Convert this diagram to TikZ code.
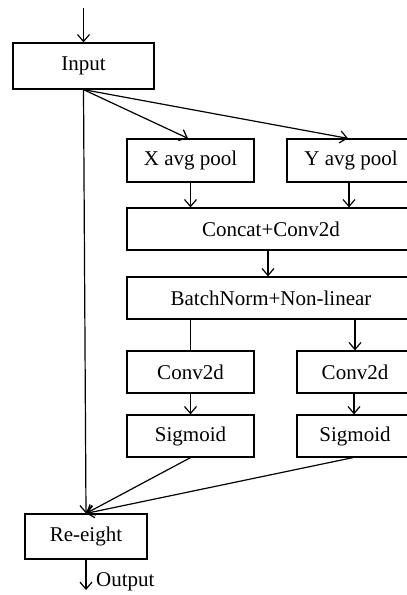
\documentclass[tikz,border=0pt]{standalone}
\usepackage{fontspec}
\setmainfont{Liberation Serif}
\usetikzlibrary{arrows.meta}
\begin{document}
\begin{tikzpicture}[x=1pt,y=-1pt,
  box/.style={draw,line width=1.2pt,inner sep=0pt,font=\fontsize{21}{25}\selectfont},
  conn/.style={line width=1.2pt},
  arr/.style={conn,-{Straight Barb[length=7pt,width=12pt,line width=1.2pt]}}]
\useasboundingbox (0,0) rectangle (407,595);
\clip (0,0) rectangle (407,595);
\node[box,minimum width=141pt,minimum height=46pt] (input) at (83.5,66) {Input};
\node[box,minimum width=127pt,minimum height=43pt] (xpool) at (190.5,160.5) {X avg pool};
\node[box,minimum width=128pt,minimum height=43pt] (ypool) at (351,160.5) {Y avg pool};
\node[box,minimum width=288pt,minimum height=42pt] (concat) at (271,229) {Concat+Conv2d};
\node[box,minimum width=288pt,minimum height=42pt] (bn) at (271,298) {BatchNorm+Non-linear};
\node[box,minimum width=127pt,minimum height=42pt] (convl) at (190.5,372) {Conv2d};
\node[box,minimum width=116pt,minimum height=42pt] (convr) at (355,372) {Conv2d};
\node[box,minimum width=127pt,minimum height=42pt] (sigl) at (190.5,436) {Sigmoid};
\node[box,minimum width=116pt,minimum height=42pt] (sigr) at (355,436) {Sigmoid};
\node[box,minimum width=122pt,minimum height=45pt] (rew) at (86,536.5) {Re-eight};
\coordinate (top) at (83.5,8);
\coordinate (outend) at (86,590);
\node[anchor=west,inner sep=0pt,font=\fontsize{21}{25}\selectfont] (outlbl) at (96,582) {Output};
% connectors
\draw[arr] (top) -- (input.north);
\draw[arr] (input.south) -- (xpool.north -| 188,0);
\draw[arr] (input.south) -- (ypool.north -| 348,0);
\draw[arr] (input.south) -- (rew.north);
\draw[arr] (xpool.south) -- (xpool.south |- concat.north);
\draw[arr] (ypool.south -| 349,0) -- (concat.north -| 349,0);
\draw[arr] (concat.south -| 268,0) -- (bn.north -| 268,0);
\draw[conn] (bn.south -| convl.north) -- (convl.north);
\draw[arr] (bn.south -| 355,0) -- (convr.north);
\draw[arr] (convl.south) -- (sigl.north);
\draw[arr] (convr.south -| 354,0) -- (sigr.north -| 354,0);
\draw[arr] (sigl.south) -- (rew.north);
\draw[arr] (sigr.south -| 353,0) -- (rew.north);
\draw[arr] (rew.south) -- (outend);
\end{tikzpicture}
\end{document}
